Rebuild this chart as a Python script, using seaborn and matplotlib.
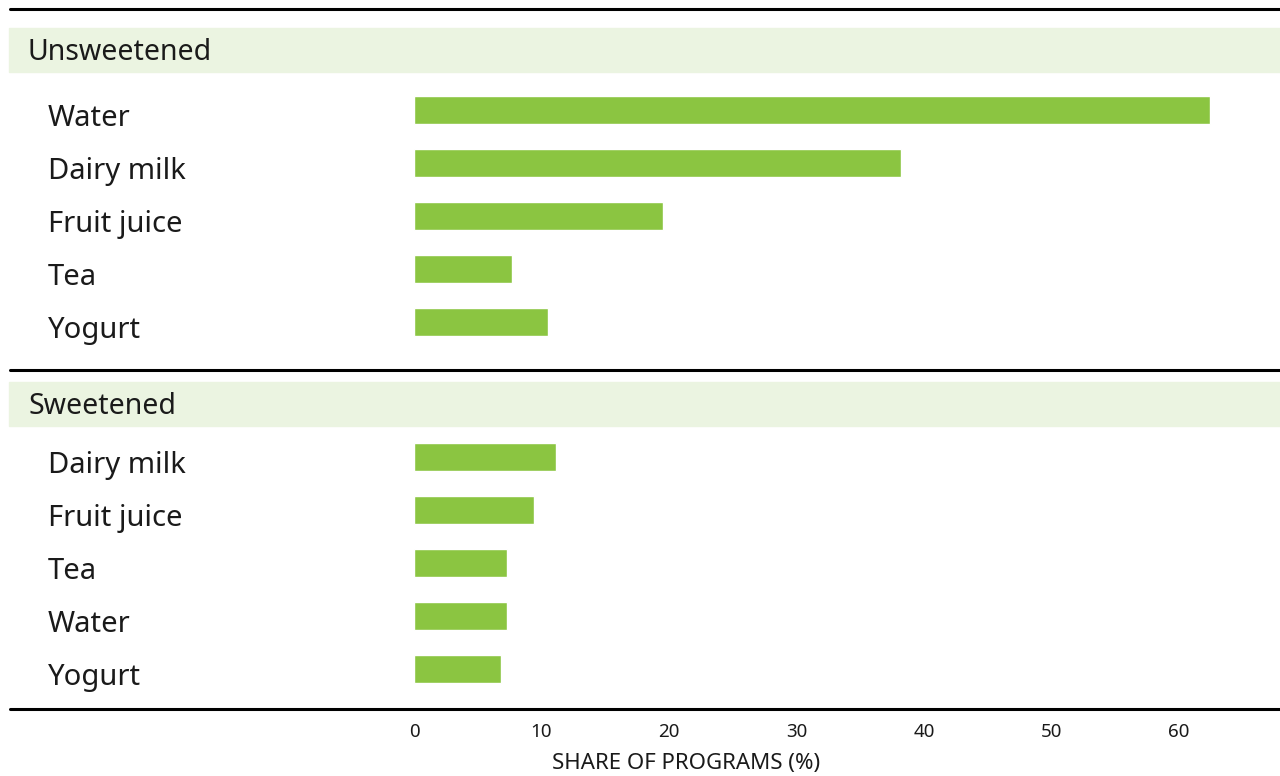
import numpy as np
import pandas as pd
import seaborn as sns
import matplotlib.pyplot as plt
from matplotlib.patches import Rectangle
from matplotlib.lines import Line2D
from matplotlib.transforms import ScaledTranslation

# values (share of programs, %)
unsweet_drinks = ["Water", "Dairy milk", "Fruit juice", "Tea", "Yogurt"]
unsweet_share = [62.4, 38.2, 19.5, 7.7, 10.5]
sweet_drinks = ["Dairy milk", "Fruit juice", "Tea", "Water", "Yogurt"]
sweet_share = [11.1, 9.4, 7.3, 7.3, 6.8]
groups = ["Unsweetened", "Sweetened"]
xticks = [0, 10, 20, 30, 40, 50, 60]

df = pd.DataFrame({
    "group": [groups[0]] * len(unsweet_drinks) + [groups[1]] * len(sweet_drinks),
    "drink": unsweet_drinks + sweet_drinks,
    "share": unsweet_share + sweet_share,
})

sns.set_theme(style="white")
plt.rcParams["font.family"] = ["Noto Sans", "DejaVu Sans"]

W, H = 1280, 776
fig = plt.figure(figsize=(W / 100, H / 100), dpi=100)
green = "#8bc541"
band = "#ebf4e1"
ink = "#1a1a1a"

def px_axes(left, top, right, bottom):
    return fig.add_axes([left / W, 1 - bottom / H, (right - left) / W, (bottom - top) / H])

row = 53
x0 = 414
xmax = 68
scale = 12.75
x1 = x0 + xmax * scale

# section geometry (pixel centres of first bar)
first_centres = [110, 457]
band_tops = [28, 382]
line_ys = [9, 370, 709]

axes = []
for g, c0, bt in zip(groups, first_centres, band_tops):
    ax = px_axes(x0, c0 - 0.6 * row, x1, c0 + 4.6 * row)
    sub = df[df["group"] == g]
    sns.barplot(data=sub, x="share", y="drink", orient="h", color=green,
                width=0.51, saturation=1, ax=ax)
    ax.set_xlim(0, xmax)
    ax.set_ylim(4.6, -0.6)
    for s in ax.spines.values():
        s.set_visible(False)
    ax.set_ylabel("")
    ax.set_xlabel("")
    ax.tick_params(axis="y", length=0, pad=(x0 - 48) * 0.72, labelsize=21, labelcolor=ink)
    shift = ScaledTranslation(0, -5 / 100, fig.dpi_scale_trans)
    for lab in ax.get_yticklabels():
        lab.set_ha("left")
        lab.set_transform(lab.get_transform() + shift)
    ax.set_facecolor("none")
    # header band
    fig.add_artist(Rectangle((9 / W, 1 - (bt + 44) / H), (W - 9) / W, 44 / H,
                             transform=fig.transFigure, color=band, zorder=0))
    fig.text(28 / W, 1 - (bt + 24) / H, g, fontsize=20.5, color=ink, va="center", ha="left")
    axes.append(ax)

axes[0].set_xticks([])
ax = axes[1]
ax.set_xticks(xticks)
ax.tick_params(axis="x", length=0, pad=16, labelsize=13.5, labelcolor=ink)
ax.set_xlabel("SHARE OF PROGRAMS (%)", fontsize=16, color=ink)
ax.xaxis.set_label_coords((686 - x0) / (x1 - x0), -0.19)

for y in line_ys:
    fig.add_artist(Line2D([10 / W, 1], [1 - y / H, 1 - y / H], transform=fig.transFigure,
                          color="black", lw=2.2))

fig.savefig("out.png", dpi=100)
